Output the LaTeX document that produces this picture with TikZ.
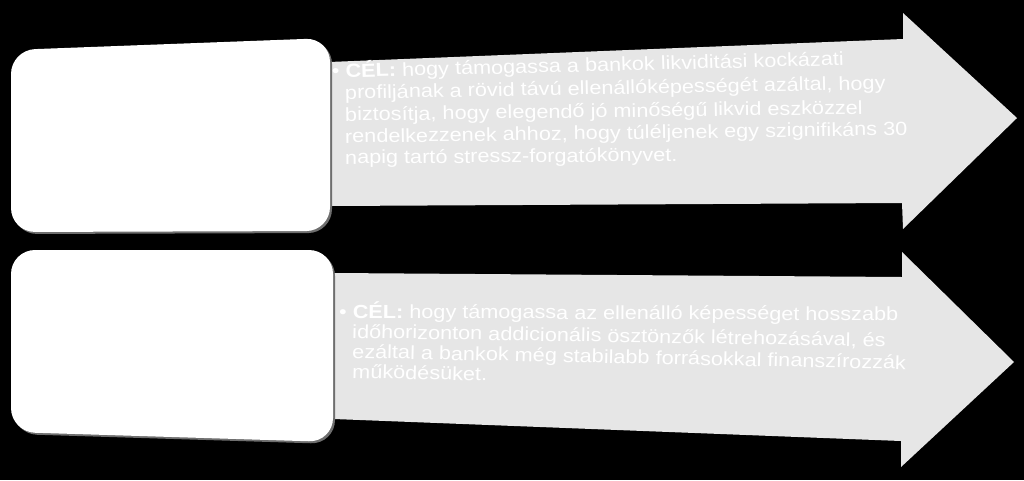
\documentclass[tikz,border=0pt]{standalone}
\usepackage{fontspec}
\setmainfont{Liberation Sans}
\definecolor{arrowgray}{HTML}{E6E6E6}
\definecolor{shadowgray}{HTML}{6E6E6E}
\begin{document}
\begin{tikzpicture}[x=1pt,y=-1pt,
  txtline/.style={anchor=base west, inner sep=0pt, text=white,
    font=\fontsize{19}{22}\selectfont, xscale=1.14,
    text height=13pt, text depth=3pt},
  arrowbody/.style={fill=arrowgray},
  card/.style={fill=white, rounded corners=24pt},
  cardshadow/.style={fill=shadowgray, rounded corners=24pt}]
\fill[black] (0,0) rectangle (1024,480);
\useasboundingbox (0,0) rectangle (1024,480);

% arrows
\fill[arrowbody] (329,62) -- (903,39) -- (903,13) -- (1017,118) -- (903,229) -- (902,203) -- (331,206) -- cycle;
\fill[arrowbody] (334,273) -- (902,277) -- (902,252) -- (1014,362) -- (901,467) -- (901,441) -- (334,419) -- cycle;

% cards with shadow
\fill[cardshadow] (13,52) -- (332,40) -- (332,233) -- (13,234) -- cycle;
\fill[card] (11,50) -- (330,38) -- (330,231) -- (11,232) -- cycle;
\fill[cardshadow] (13,252) -- (335,252) -- (335,444) -- (13,434) -- cycle;
\fill[card] (11,250) -- (333,250) -- (333,442) -- (11,432) -- cycle;

% text of the first arrow
\node[txtline, rotate=1.63] (a1) at (332,78) {•\ \textbf{CÉL:} hogy támogassa a bankok likviditási kockázati};
\node[txtline, rotate=1.16] (a2) at (345,99) {profiljának a rövid távú ellenállóképességét azáltal, hogy};
\node[txtline, rotate=0.88] (a3) at (345,121) {biztosítja, hogy elegendő jó minőségű likvid eszközzel};
\node[txtline, rotate=0.90] (a4) at (345,143) {rendelkezzenek ahhoz, hogy túléljenek egy szignifikáns 30};
\node[txtline, rotate=0.54] (a5) at (345,164) {napig tartó stressz-forgatókönyvet.};

% text of the second arrow
\node[txtline, rotate=-0.31] (b1) at (339,318) {•\ \textbf{CÉL:} hogy támogassa az ellenálló képességet hosszabb};
\node[txtline, rotate=-1.07] (b2) at (352,338) {időhorizonton addicionális ösztönzők létrehozásával, és};
\node[txtline, rotate=-1.33] (b3) at (352,358) {ezáltal a bankok még stabilabb forrásokkal finanszírozzák};
\node[txtline, rotate=-1.30] (b4) at (352,378) {működésüket.};
\end{tikzpicture}
\end{document}
